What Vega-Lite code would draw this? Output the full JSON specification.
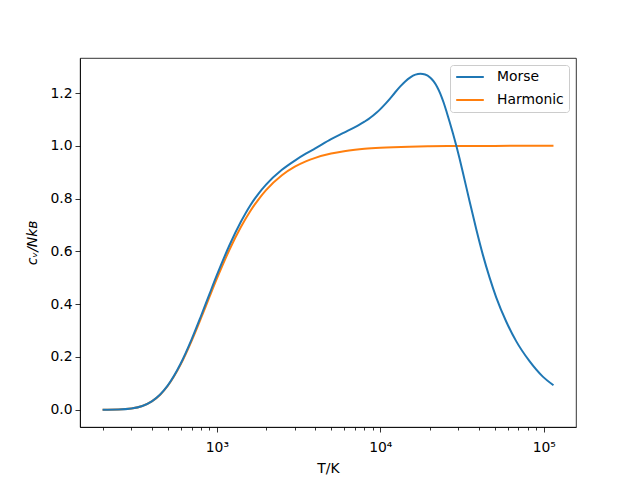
{
  "$schema": "https://vega.github.io/schema/vega-lite/v6.json",
  "width": 496,
  "height": 369,
  "autosize": {"type": "none"},
  "padding": {"left": 80, "top": 58, "right": 64, "bottom": 53},
  "background": "white",
  "config": {
    "font": "DejaVu Sans",
    "view": {"stroke": "black", "strokeWidth": 0.8},
    "axis": {
      "domainColor": "black", "domainWidth": 0.8,
      "tickColor": "black", "tickWidth": 0.8,
      "labelFont": "DejaVu Sans", "labelFontSize": 13.9, "labelColor": "black",
      "titleFont": "DejaVu Sans", "titleFontSize": 13.9, "titleFontWeight": "normal", "titleColor": "black",
      "grid": false
    },
    "legend": {
      "labelFont": "DejaVu Sans", "labelFontSize": 13.9, "labelColor": "black"
    }
  },
  "data": {
    "values": [
      {"T": 200, "c": 0.0001, "series": "Harmonic"},
      {"T": 250, "c": 0.0009, "series": "Harmonic"},
      {"T": 300, "c": 0.0045, "series": "Harmonic"},
      {"T": 350, "c": 0.0139, "series": "Harmonic"},
      {"T": 400, "c": 0.0312, "series": "Harmonic"},
      {"T": 450, "c": 0.0567, "series": "Harmonic"},
      {"T": 500, "c": 0.0897, "series": "Harmonic"},
      {"T": 600, "c": 0.1707, "series": "Harmonic"},
      {"T": 700, "c": 0.2599, "series": "Harmonic"},
      {"T": 800, "c": 0.3468, "series": "Harmonic"},
      {"T": 900, "c": 0.4263, "series": "Harmonic"},
      {"T": 1000, "c": 0.4963, "series": "Harmonic"},
      {"T": 1200, "c": 0.6089, "series": "Harmonic"},
      {"T": 1400, "c": 0.6914, "series": "Harmonic"},
      {"T": 1600, "c": 0.7522, "series": "Harmonic"},
      {"T": 1800, "c": 0.7973, "series": "Harmonic"},
      {"T": 2000, "c": 0.8319, "series": "Harmonic"},
      {"T": 2500, "c": 0.8882, "series": "Harmonic"},
      {"T": 3000, "c": 0.9207, "series": "Harmonic"},
      {"T": 3500, "c": 0.9410, "series": "Harmonic"},
      {"T": 4000, "c": 0.9544, "series": "Harmonic"},
      {"T": 5000, "c": 0.9705, "series": "Harmonic"},
      {"T": 6000, "c": 0.9794, "series": "Harmonic"},
      {"T": 7000, "c": 0.9848, "series": "Harmonic"},
      {"T": 8000, "c": 0.9884, "series": "Harmonic"},
      {"T": 10000, "c": 0.9925, "series": "Harmonic"},
      {"T": 12000, "c": 0.9948, "series": "Harmonic"},
      {"T": 15000, "c": 0.9967, "series": "Harmonic"},
      {"T": 20000, "c": 0.9981, "series": "Harmonic"},
      {"T": 30000, "c": 0.9992, "series": "Harmonic"},
      {"T": 50000, "c": 0.9997, "series": "Harmonic"},
      {"T": 80000, "c": 0.9999, "series": "Harmonic"},
      {"T": 114600, "c": 0.9999, "series": "Harmonic"},
      {"T": 200, "c": 0.0001, "series": "Morse"},
      {"T": 250, "c": 0.0009, "series": "Morse"},
      {"T": 300, "c": 0.0046, "series": "Morse"},
      {"T": 350, "c": 0.0141, "series": "Morse"},
      {"T": 400, "c": 0.0316, "series": "Morse"},
      {"T": 450, "c": 0.0576, "series": "Morse"},
      {"T": 500, "c": 0.0912, "series": "Morse"},
      {"T": 600, "c": 0.1740, "series": "Morse"},
      {"T": 700, "c": 0.2655, "series": "Morse"},
      {"T": 800, "c": 0.3550, "series": "Morse"},
      {"T": 900, "c": 0.4370, "series": "Morse"},
      {"T": 1000, "c": 0.5095, "series": "Morse"},
      {"T": 1200, "c": 0.6260, "series": "Morse"},
      {"T": 1400, "c": 0.7110, "series": "Morse"},
      {"T": 1600, "c": 0.7740, "series": "Morse"},
      {"T": 1800, "c": 0.8190, "series": "Morse"},
      {"T": 2000, "c": 0.8530, "series": "Morse"},
      {"T": 2500, "c": 0.9090, "series": "Morse"},
      {"T": 3000, "c": 0.9440, "series": "Morse"},
      {"T": 3500, "c": 0.9700, "series": "Morse"},
      {"T": 4000, "c": 0.9900, "series": "Morse"},
      {"T": 5000, "c": 1.0250, "series": "Morse"},
      {"T": 6000, "c": 1.0500, "series": "Morse"},
      {"T": 7000, "c": 1.0710, "series": "Morse"},
      {"T": 7500, "c": 1.0810, "series": "Morse"},
      {"T": 8000, "c": 1.0915, "series": "Morse"},
      {"T": 8500, "c": 1.1020, "series": "Morse"},
      {"T": 9000, "c": 1.1135, "series": "Morse"},
      {"T": 9500, "c": 1.1260, "series": "Morse"},
      {"T": 10000, "c": 1.1390, "series": "Morse"},
      {"T": 10700, "c": 1.1580, "series": "Morse"},
      {"T": 11500, "c": 1.1800, "series": "Morse"},
      {"T": 12300, "c": 1.2020, "series": "Morse"},
      {"T": 13250, "c": 1.2250, "series": "Morse"},
      {"T": 14200, "c": 1.2440, "series": "Morse"},
      {"T": 15270, "c": 1.2595, "series": "Morse"},
      {"T": 16400, "c": 1.2695, "series": "Morse"},
      {"T": 17580, "c": 1.2730, "series": "Morse"},
      {"T": 18800, "c": 1.2705, "series": "Morse"},
      {"T": 20240, "c": 1.2580, "series": "Morse"},
      {"T": 21200, "c": 1.2440, "series": "Morse"},
      {"T": 22230, "c": 1.2240, "series": "Morse"},
      {"T": 23300, "c": 1.1970, "series": "Morse"},
      {"T": 24420, "c": 1.1630, "series": "Morse"},
      {"T": 25500, "c": 1.1263, "series": "Morse"},
      {"T": 26500, "c": 1.0921, "series": "Morse"},
      {"T": 27800, "c": 1.0474, "series": "Morse"},
      {"T": 29300, "c": 0.9950, "series": "Morse"},
      {"T": 30500, "c": 0.9524, "series": "Morse"},
      {"T": 31990, "c": 0.8986, "series": "Morse"},
      {"T": 35150, "c": 0.7902, "series": "Morse"},
      {"T": 38630, "c": 0.6836, "series": "Morse"},
      {"T": 42400, "c": 0.5866, "series": "Morse"},
      {"T": 46560, "c": 0.5013, "series": "Morse"},
      {"T": 51150, "c": 0.4258, "series": "Morse"},
      {"T": 58880, "c": 0.3342, "series": "Morse"},
      {"T": 67760, "c": 0.2598, "series": "Morse"},
      {"T": 81770, "c": 0.1839, "series": "Morse"},
      {"T": 98600, "c": 0.1254, "series": "Morse"},
      {"T": 114600, "c": 0.0928, "series": "Morse"}
    ]
  },
  "mark": {"type": "line", "strokeWidth": 2, "interpolate": "monotone", "clip": true},
  "encoding": {
    "x": {
      "field": "T", "type": "quantitative",
      "scale": {"type": "log", "domain": [145.5, 157400], "nice": false},
      "axis": {
        "title": "T/K",
        "values": [200, 300, 400, 500, 600, 700, 800, 900, 1000, 2000, 3000, 4000, 5000, 6000, 7000, 8000, 9000, 10000, 20000, 30000, 40000, 50000, 60000, 70000, 80000, 90000, 100000],
        "labelExpr": "datum.value == 1000 ? '10³' : datum.value == 10000 ? '10⁴' : datum.value == 100000 ? '10⁵' : ''",
        "labelOverlap": false,
        "labelFlush": false,
        "tickSize": {"condition": {"test": "datum.value == 1000 || datum.value == 10000 || datum.value == 100000", "value": 5}, "value": 3},
        "labelPadding": 8,
        "titlePadding": 8
      }
    },
    "y": {
      "field": "c", "type": "quantitative",
      "scale": {"domain": [-0.0656, 1.3327], "nice": false, "zero": false},
      "axis": {
        "title": "cᵥ/Nkʙ",
        "titleFontStyle": "italic",
        "values": [0, 0.2, 0.4, 0.6, 0.8, 1.0, 1.2],
        "format": ".1f",
        "tickSize": 5,
        "labelPadding": 3,
        "titlePadding": 10
      }
    },
    "color": {
      "field": "series", "type": "nominal",
      "scale": {"domain": ["Morse", "Harmonic"], "range": ["#1f77b4", "#ff7f0e"]},
      "legend": {
        "title": null,
        "orient": "top-right",
        "offset": 7,
        "symbolType": "M-2.3,0H2.3",
        "symbolSize": 144,
        "symbolStrokeWidth": 2,
        "symbolOffset": 8,
        "labelOffset": 20,
        "strokeColor": "#cccccc",
        "fillColor": "white",
        "cornerRadius": 3,
        "padding": 5,
        "rowPadding": 9
      }
    }
  }
}
